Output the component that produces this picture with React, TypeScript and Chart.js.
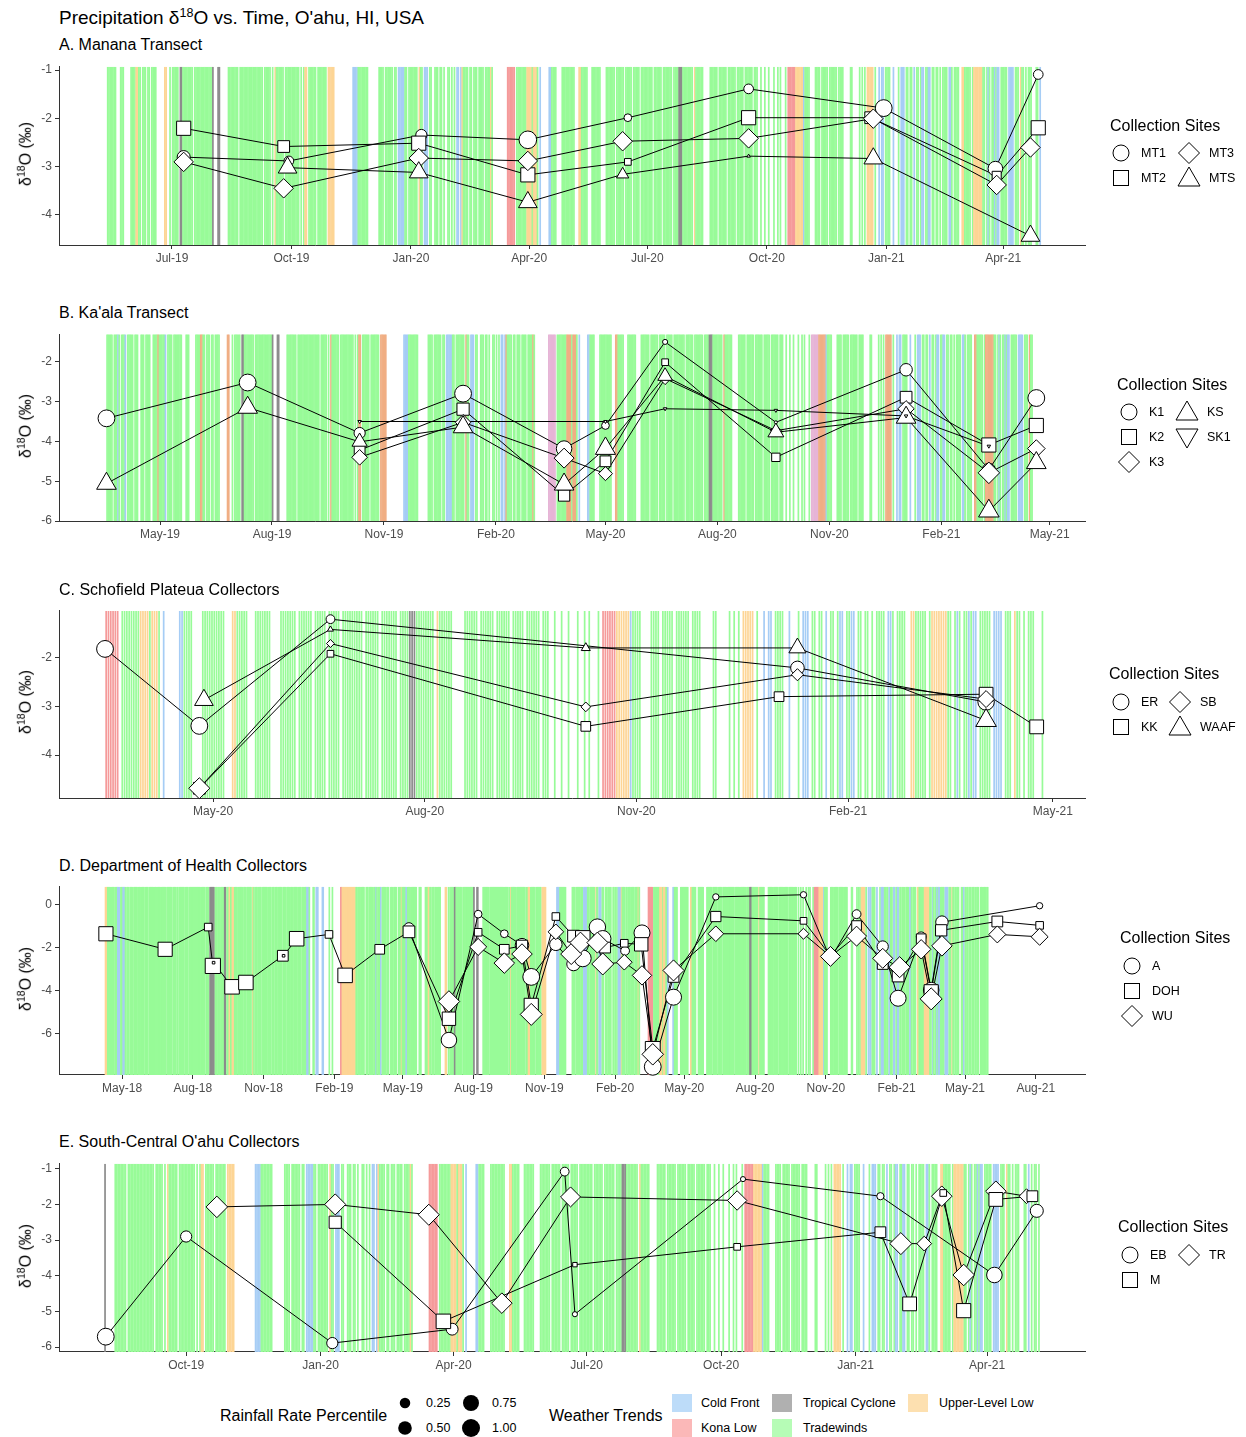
import React, { useEffect, useRef } from 'react';
import { Chart, registerables } from 'chart.js';

Chart.register(...registerables);

const FONT = '"Liberation Sans", Arial, Helvetica, sans-serif';

// ---------------- Weather trend per day (one char per day, month strings) ----------------
// g = Tradewinds, c = Cold Front, k = Kona Low, t = Tropical Cyclone, u = Upper-Level Low, . = none
const WEATHER_2018 = [
  '', '', '',
  '........uuugggg.gggg.gggccc.gg.',
  'gcccg.ggg.gggg.ggggg.ggg.gggg.gg',
  'ggg.gggggg.ggg.gggg.gggggg.ggg.',
  'gggg.gggg.gg.ggggggg.gggg.ggggg',
  'gggggggggg.ggggg.gggg.tttttt.ggg',
  'g.gg.gggg.tt.ggguugguu.gggg.gg',
  'gggg.ggg.gggggg.gug.ggg.gggg.gg',
  'ggggg.gggg.ggg.ggg.ggggg.gggg.g',
  'gggg.ggg.ggggg.gggg.gg.gggcccg..',
];
const WEATHER_2019 = [
  '...gg..ccc.....cc.......g...g..',
  '........kkuuuuuuuuuuuuuuuuuugg',
  'gg.ggg.gggg..ggg.ggggg.gggcg.gg',
  'gc.ggggg.ggg..ggg.gggg..ggggug.',
  'ggggc.gggg.ggggggg...ggg.....gg',
  'gguugg.ggg.gg.gggg......uu..g',
  'ggggg.ttgggggggg.gggggggggggggg',
  't...tt......gggggggg.gggggggggg.g',
  'gggggggg.ggggg.g.ugggggg.gggggg',
  'gggggg.g.guu.gggggg.ggggggg.uuu',
  'uu..............ccccgggggggg..',
  '......gggg.gggggg.gg.cccccgg.gg',
];
const WEATHER_2020 = [
  'ggggg.ugg.ccc.gg..ggg.gg.g..gg.',
  'g.g.cc.cugggg.gg.ggg.gggg.ggg.',
  'gug...........kkkkkk.gggggggguu',
  'uuguuug.c......ccgggg....ggggg',
  'ggggg...uuggggg...ggggggg....gg',
  'ggggg.gggggg.ggggg.ggggg.gggggg',
  'gggg.gggggg.ggggggg.ggggtttgggg',
  'gggg.ugggggg.....gggggg.gggggg.g',
  'gggggg.ggggg.gggggg.ggg..g..g..',
  '.g...g..g.g...g.kkkkkkuuuuuucgg',
  'gg....gggg.ggggg.gggggg.gggg....',
  '...gg.....g.g.g.uuuuu.g..c.cc.gg',
];
const WEATHER_2021 = [
  'ggg..c...g.ccc.gg.gg.c.gg.gcc.gg',
  'gcc.gg.gg.g.gggg.ccg.gggg..uuu',
  'uggggg.guuuuuuugg.gcg.ggcgcc.gg',
  'ggg.cccc.ggg.ugg.g.ggg...gg.c..',
  'g.gg.ggg.ggg.g.ggg..ggg.ggg.gg.',
];
const WEATHER_YEARS: [number, string[]][] = [
  [2018, WEATHER_2018], [2019, WEATHER_2019], [2020, WEATHER_2020], [2021, WEATHER_2021],
];

const WEATHER_COLORS: Record<string, string> = {
  g: '#98fb98', c: '#a6cdf5', k: '#f59a9a', t: '#8c8c8c', u: '#fdd595',
};
const WEATHER_COLORS_B: Record<string, string> = {
  g: '#98fb98', c: '#a6cdf5', k: '#e6b4d6', t: '#8c8c8c', u: '#f0ae84',
};
const WEATHER_KEYS = ['Cold Front', 'Tropical Cyclone', 'Upper-Level Low', 'Kona Low', 'Tradewinds'];
const WEATHER_KEY_COLORS = ['#bddcf9', '#b0b0b0', '#fde0b0', '#fbb8b8', '#b6fcb6'];
const SIZE_KEYS = [0.25, 0.5, 0.75, 1.0];

// ---------------- Panel A: Manana Transect ----------------
const A_X_TICKS = ['Jul-19', 'Oct-19', 'Jan-20', 'Apr-20', 'Jul-20', 'Oct-20', 'Jan-21', 'Apr-21'];
const A_Y_TICKS = [-1, -2, -3, -4];
const A_X_RANGE = ['2019-04-05', '2021-06-03'];
const A_Y_RANGE = [-4.64, -0.93];
const A_WEATHER_WINDOW = ['2019-05-12', '2021-04-30'];
const A_MT1_DATES = ['2019-07-10', '2019-09-29', '2020-01-09', '2020-03-31', '2020-06-16', '2020-09-17', '2020-12-30', '2021-03-26', '2021-04-28'];
const A_MT1_D18O = [-2.81, -2.89, -2.35, -2.45, -1.99, -1.39, -1.79, -3.05, -1.09];
const A_MT1_PCT = [0.45, 0.2, 0.3, 0.95, 0.1, 0.2, 0.85, 0.6, 0.2];
const A_MT2_DATES = ['2019-07-10', '2019-09-25', '2020-01-07', '2020-03-31', '2020-06-16', '2020-09-17', '2020-12-20', '2021-03-27', '2021-04-28'];
const A_MT2_D18O = [-2.21, -2.59, -2.52, -3.18, -2.91, -1.99, -1.99, -3.2, -2.2];
const A_MT2_PCT = [0.8, 0.5, 0.8, 0.8, 0.1, 0.8, 0.5, 0.25, 0.8];
const A_MT3_DATES = ['2019-07-10', '2019-09-25', '2020-01-07', '2020-03-31', '2020-06-12', '2020-09-17', '2020-12-22', '2021-03-27', '2021-04-22'];
const A_MT3_D18O = [-2.91, -3.46, -2.83, -2.89, -2.48, -2.42, -2.01, -3.39, -2.61];
const A_MT3_PCT = [0.7, 0.7, 0.7, 0.7, 0.7, 0.7, 0.7, 0.7, 0.7];
const A_MTS_DATES = ['2019-09-28', '2020-01-07', '2020-03-31', '2020-06-12', '2020-09-17', '2020-12-22', '2021-04-22'];
const A_MTS_D18O = [-3.03, -3.13, -3.75, -3.17, -2.79, -2.84, -4.45];
const A_MTS_PCT = [0.75, 0.75, 0.75, 0.25, 0.0, 0.75, 0.75];

// ---------------- Panel B: Ka'ala Transect ----------------
const B_X_TICKS = ['May-19', 'Aug-19', 'Nov-19', 'Feb-20', 'May-20', 'Aug-20', 'Nov-20', 'Feb-21', 'May-21'];
const B_Y_TICKS = [-2, -3, -4, -5, -6];
const B_X_RANGE = ['2019-02-07', '2021-05-30'];
const B_Y_RANGE = [-6.0, -1.31];
const B_WEATHER_WINDOW = ['2019-03-18', '2021-04-16'];
const B_K1_DATES = ['2019-03-18', '2019-07-12', '2019-10-12', '2020-01-05', '2020-03-28', '2020-05-01', '2020-06-19', '2020-09-18', '2021-01-03', '2021-03-12', '2021-04-20'];
const B_K1_D18O = [-3.42, -2.52, -3.79, -2.8, -4.18, -3.6, -1.5, -3.52, -2.2, -4.71, -2.91];
const B_K1_PCT = [0.85, 0.85, 0.3, 0.85, 0.7, 0.1, 0.02, 0.0, 0.4, 0.45, 0.85];
const B_K2_DATES = ['2019-10-12', '2020-01-05', '2020-03-28', '2020-05-01', '2020-06-19', '2020-09-18', '2021-01-03', '2021-03-12', '2021-04-20'];
const B_K2_D18O = [-4.22, -3.19, -5.36, -4.5, -2.01, -4.4, -2.89, -4.09, -3.6];
const B_K2_PCT = [0.4, 0.55, 0.45, 0.4, 0.1, 0.2, 0.5, 0.8, 0.8];
const B_K3_DATES = ['2019-10-12', '2020-01-05', '2020-03-28', '2020-05-01', '2020-06-19', '2020-09-18', '2021-01-03', '2021-03-12', '2021-04-20'];
const B_K3_D18O = [-4.4, -3.52, -4.42, -4.81, -2.42, -3.73, -3.18, -4.79, -4.18];
const B_K3_PCT = [0.4, 0.4, 0.75, 0.3, 0.2, 0.15, 0.45, 0.9, 0.55];
const B_KS_DATES = ['2019-03-18', '2019-07-12', '2019-10-12', '2020-01-05', '2020-03-28', '2020-05-01', '2020-06-19', '2020-09-18', '2021-01-03', '2021-03-12', '2021-04-20'];
const B_KS_D18O = [-5.06, -3.15, -4.01, -3.64, -5.08, -4.18, -2.36, -3.77, -3.4, -5.75, -4.54];
const B_KS_PCT = [0.85, 0.85, 0.45, 0.85, 0.85, 0.9, 0.4, 0.5, 0.85, 0.95, 0.85];
const B_SK1_DATES = ['2019-10-12', '2020-05-01', '2020-06-19', '2020-09-18', '2021-01-03', '2021-03-12'];
const B_SK1_D18O = [-3.5, -3.5, -3.18, -3.22, -3.36, -4.12];
const B_SK1_PCT = [0, 0, 0, 0, 0, 0];

// ---------------- Panel C: Schofield Plateua Collectors ----------------
const C_X_TICKS = ['May-20', 'Aug-20', 'Nov-20', 'Feb-21', 'May-21'];
const C_Y_TICKS = [-2, -3, -4];
const C_X_RANGE = ['2020-02-24', '2021-05-15'];
const C_Y_RANGE = [-4.88, -1.04];
const C_WEATHER_WINDOW = ['2020-03-14', '2021-04-26'];
const C_ER_DATES = ['2020-03-15', '2020-04-25', '2020-06-21', '2021-01-10', '2021-04-02'];
const C_ER_D18O = [-1.82, -3.4, -1.21, -2.21, -2.91];
const C_ER_PCT = [0.85, 0.85, 0.15, 0.5, 0.8];
const C_KK_DATES = ['2020-04-25', '2020-06-21', '2020-10-10', '2021-01-02', '2021-04-02', '2021-04-24'];
const C_KK_D18O = [-4.68, -1.92, -3.41, -2.8, -2.75, -3.42];
const C_KK_PCT = [0.5, 0.1, 0.3, 0.3, 0.75, 0.75];
const C_SB_DATES = ['2020-04-25', '2020-06-21', '2020-10-10', '2021-01-10', '2021-04-02'];
const C_SB_D18O = [-4.68, -1.71, -3.01, -2.35, -2.85];
const C_SB_PCT = [0.85, 0.05, 0.1, 0.2, 0.5];
const C_WAAF_DATES = ['2020-04-27', '2020-06-21', '2020-10-10', '2021-01-10', '2021-04-02'];
const C_WAAF_D18O = [-2.87, -1.42, -1.8, -1.8, -3.29];
const C_WAAF_PCT = [0.75, 0.02, 0.1, 0.6, 0.95];

// ---------------- Panel D: Department of Health Collectors ----------------
const D_X_TICKS = ['May-18', 'Aug-18', 'Nov-18', 'Feb-19', 'May-19', 'Aug-19', 'Nov-19', 'Feb-20', 'May-20', 'Aug-20', 'Nov-20', 'Feb-21', 'May-21', 'Aug-21'];
const D_Y_TICKS = [0, -2, -4, -6];
const D_X_RANGE = ['2018-02-08', '2021-10-04'];
const D_Y_RANGE = [-7.91, 0.82];
const D_WEATHER_WINDOW = ['2018-04-05', '2021-05-31'];
const D_A_DATES = ['2019-05-09', '2019-06-30', '2019-08-07', '2019-09-10', '2019-10-03', '2019-10-15', '2019-11-16', '2019-12-09', '2019-12-21', '2020-01-09', '2020-01-16', '2020-02-14', '2020-03-07', '2020-03-21', '2020-04-17', '2020-06-11', '2020-10-03', '2020-11-07', '2020-12-11', '2021-01-14', '2021-02-03', '2021-03-05', '2021-03-18', '2021-04-01', '2021-08-06'];
const D_A_D18O = [-1.09, -6.29, -0.45, -1.36, -1.89, -3.36, -1.85, -2.76, -2.5, -1.05, -1.59, -2.15, -1.32, -7.53, -4.3, 0.35, 0.45, -2.53, -0.45, -1.95, -4.35, -1.5, -3.97, -0.82, -0.06];
const D_A_PCT = [0.25, 0.7, 0.1, 0.1, 0.5, 0.85, 0.4, 0.5, 0.85, 0.8, 0.8, 0.15, 0.75, 0.85, 0.75, 0.05, 0.05, 0.15, 0.15, 0.3, 0.75, 0.2, 0.7, 0.4, 0.05];
const D_DOH_DATES = ['2018-04-10', '2018-06-26', '2018-08-21', '2018-08-27', '2018-08-28', '2018-09-21', '2018-10-09', '2018-11-26', '2018-11-27', '2018-12-14', '2019-01-25', '2019-02-15', '2019-04-01', '2019-05-09', '2019-06-30', '2019-08-07', '2019-09-10', '2019-10-03', '2019-10-15', '2019-11-16', '2019-12-09', '2019-12-21', '2020-01-19', '2020-02-13', '2020-03-06', '2020-03-21', '2020-04-17', '2020-06-11', '2020-10-03', '2020-11-07', '2020-12-11', '2021-01-14', '2021-02-03', '2021-03-05', '2021-03-18', '2021-03-31', '2021-06-12', '2021-08-06'];
const D_DOH_D18O = [-1.36, -2.08, -1.05, -2.85, -2.7, -3.82, -3.62, -2.38, -2.38, -1.59, -1.39, -3.29, -2.08, -1.27, -5.3, -1.29, -2.08, -1.92, -4.68, -0.56, -1.47, -1.55, -2.0, -1.8, -1.85, -6.7, -3.36, -0.56, -0.76, -2.38, -0.98, -2.76, -3.32, -1.59, -4.05, -1.2, -0.79, -0.97];
const D_DOH_PCT = [0.8, 0.8, 0.15, 0.95, 0.0, 0.85, 0.85, 0.4, 0.0, 0.85, 0.15, 0.85, 0.3, 0.5, 0.7, 0.15, 0.3, 0.45, 0.8, 0.15, 0.5, 0.85, 0.4, 0.15, 0.7, 0.9, 0.4, 0.35, 0.1, 0.15, 0.3, 0.4, 0.5, 0.3, 0.8, 0.45, 0.4, 0.15];
const D_WU_DATES = ['2019-06-30', '2019-08-07', '2019-09-10', '2019-10-03', '2019-10-15', '2019-11-16', '2019-12-06', '2019-12-18', '2020-01-09', '2020-01-16', '2020-02-13', '2020-03-07', '2020-03-21', '2020-04-17', '2020-06-11', '2020-10-03', '2020-11-07', '2020-12-11', '2021-01-14', '2021-02-05', '2021-03-05', '2021-03-18', '2021-04-01', '2021-06-12', '2021-08-06'];
const D_WU_D18O = [-4.5, -1.97, -2.72, -2.3, -5.1, -1.27, -2.3, -1.77, -1.77, -2.76, -2.68, -3.29, -6.95, -3.06, -1.36, -1.36, -2.41, -1.47, -2.5, -2.91, -2.08, -4.38, -1.92, -1.39, -1.5];
const D_WU_PCT = [0.9, 0.5, 0.8, 0.8, 0.95, 0.4, 0.85, 0.85, 0.85, 0.95, 0.4, 0.7, 0.9, 0.85, 0.4, 0.15, 0.75, 0.75, 0.75, 0.85, 0.7, 0.95, 0.8, 0.5, 0.5];

// ---------------- Panel E: South-Central O'ahu Collectors ----------------
const E_X_TICKS = ['Oct-19', 'Jan-20', 'Apr-20', 'Jul-20', 'Oct-20', 'Jan-21', 'Apr-21'];
const E_Y_TICKS = [-1, -2, -3, -4, -5, -6];
const E_X_RANGE = ['2019-07-06', '2021-06-07'];
const E_Y_RANGE = [-6.14, -0.86];
const E_WEATHER_WINDOW = ['2019-08-06', '2021-05-06'];
const E_EB_DATES = ['2019-08-07', '2019-10-01', '2020-01-09', '2020-03-31', '2020-06-16', '2020-06-23', '2020-10-16', '2021-01-18', '2021-04-06', '2021-05-05'];
const E_EB_D18O = [-5.71, -2.9, -5.89, -5.5, -1.08, -5.08, -1.29, -1.77, -3.98, -2.18];
const E_EB_PCT = [0.85, 0.3, 0.3, 0.35, 0.15, 0.02, 0.02, 0.08, 0.7, 0.45];
const E_TR_DATES = ['2019-10-22', '2020-01-11', '2020-03-15', '2020-05-04', '2020-06-20', '2020-10-12', '2021-02-01', '2021-02-17', '2021-03-01', '2021-03-16', '2021-04-07', '2021-04-28'];
const E_TR_D18O = [-2.07, -2.0, -2.29, -4.77, -1.79, -1.89, -3.1, -3.1, -1.77, -3.98, -1.63, -1.77];
const E_TR_PCT = [0.9, 0.85, 0.85, 0.8, 0.75, 0.7, 0.95, 0.35, 0.8, 0.9, 0.8, 0.35];
const E_M_DATES = ['2020-01-11', '2020-03-25', '2020-06-23', '2020-10-12', '2021-01-18', '2021-02-07', '2021-03-02', '2021-03-16', '2021-04-07', '2021-05-02'];
const E_M_D18O = [-2.5, -5.28, -3.69, -3.19, -2.78, -4.79, -1.68, -4.98, -1.86, -1.77];
const E_M_PCT = [0.55, 0.85, 0.02, 0.1, 0.4, 0.75, 0.1, 0.8, 0.75, 0.4];

// ---------------- helpers ----------------
const DAY_MS = 86400000;
const MONTH_ABBR = ['Jan', 'Feb', 'Mar', 'Apr', 'May', 'Jun', 'Jul', 'Aug', 'Sep', 'Oct', 'Nov', 'Dec'];
const toDay = (iso: string) => Date.UTC(+iso.slice(0, 4), +iso.slice(5, 7) - 1, +iso.slice(8, 10)) / DAY_MS;
const labelToDay = (lbl: string) => {
  const [m, y] = lbl.split('-');
  return Date.UTC(2000 + Number(y), MONTH_ABBR.indexOf(m), 1) / DAY_MS;
};
const pctToRadius = (p: number) => 1.5 * (1 + 5 * Math.sqrt(p));

const WEATHER_BY_DAY = new Map<number, string>();
for (const [year, months] of WEATHER_YEARS) {
  months.forEach((s, m) => {
    const n = new Date(Date.UTC(year, m + 1, 0)).getUTCDate();
    for (let i = 0; i < Math.min(n, s.length); i++) {
      WEATHER_BY_DAY.set(Date.UTC(year, m, i + 1) / DAY_MS, s[i]);
    }
  });
}

type Shape = 'circle' | 'square' | 'diamond' | 'triangle' | 'down';
const SHAPE_STYLE: Record<Shape, string> = {
  circle: 'circle', square: 'rect', diamond: 'rectRot', triangle: 'triangle', down: 'triangle',
};
const SHAPE_SCALE: Record<Shape, number> = {
  circle: 1, square: 1.22, diamond: 1.25, triangle: 1.35, down: 1.35,
};

interface Series { label: string; shape: Shape; dates: string[]; values: number[]; pct: number[] }
interface LegendItem { label: string; shape: Shape; cx: number; cy: number }
interface PanelCfg {
  title: string; titleCy: number; canvasTop: number; plotTop: number; plotBottom: number;
  xRange: string[]; yRange: number[]; xTicks: string[]; yTicks: number[];
  window: string[]; colors: Record<string, string>; series: Series[];
  legendX: number; legendCy: number; legend: LegendItem[];
}

const PANELS: PanelCfg[] = [
  {
    title: 'A. Manana Transect', titleCy: 45, canvasTop: 55, plotTop: 62, plotBottom: 245,
    xRange: A_X_RANGE, yRange: A_Y_RANGE, xTicks: A_X_TICKS, yTicks: A_Y_TICKS,
    window: A_WEATHER_WINDOW, colors: WEATHER_COLORS,
    series: [
      { label: 'MT1', shape: 'circle', dates: A_MT1_DATES, values: A_MT1_D18O, pct: A_MT1_PCT },
      { label: 'MT2', shape: 'square', dates: A_MT2_DATES, values: A_MT2_D18O, pct: A_MT2_PCT },
      { label: 'MT3', shape: 'diamond', dates: A_MT3_DATES, values: A_MT3_D18O, pct: A_MT3_PCT },
      { label: 'MTS', shape: 'triangle', dates: A_MTS_DATES, values: A_MTS_D18O, pct: A_MTS_PCT },
    ],
    legendX: 1110, legendCy: 126,
    legend: [
      { label: 'MT1', shape: 'circle', cx: 1121, cy: 153 },
      { label: 'MT3', shape: 'diamond', cx: 1189, cy: 153 },
      { label: 'MT2', shape: 'square', cx: 1121, cy: 178 },
      { label: 'MTS', shape: 'triangle', cx: 1189, cy: 178 },
    ],
  },
  {
    title: "B. Ka'ala Transect", titleCy: 313, canvasTop: 322, plotTop: 330, plotBottom: 521,
    xRange: B_X_RANGE, yRange: B_Y_RANGE, xTicks: B_X_TICKS, yTicks: B_Y_TICKS,
    window: B_WEATHER_WINDOW, colors: WEATHER_COLORS_B,
    series: [
      { label: 'K1', shape: 'circle', dates: B_K1_DATES, values: B_K1_D18O, pct: B_K1_PCT },
      { label: 'K2', shape: 'square', dates: B_K2_DATES, values: B_K2_D18O, pct: B_K2_PCT },
      { label: 'K3', shape: 'diamond', dates: B_K3_DATES, values: B_K3_D18O, pct: B_K3_PCT },
      { label: 'KS', shape: 'triangle', dates: B_KS_DATES, values: B_KS_D18O, pct: B_KS_PCT },
      { label: 'SK1', shape: 'down', dates: B_SK1_DATES, values: B_SK1_D18O, pct: B_SK1_PCT },
    ],
    legendX: 1117, legendCy: 385,
    legend: [
      { label: 'K1', shape: 'circle', cx: 1129, cy: 412 },
      { label: 'KS', shape: 'triangle', cx: 1187, cy: 412 },
      { label: 'K2', shape: 'square', cx: 1129, cy: 437 },
      { label: 'SK1', shape: 'down', cx: 1187, cy: 437 },
      { label: 'K3', shape: 'diamond', cx: 1129, cy: 462 },
    ],
  },
  {
    title: 'C. Schofield Plateua Collectors', titleCy: 590, canvasTop: 598, plotTop: 606, plotBottom: 798,
    xRange: C_X_RANGE, yRange: C_Y_RANGE, xTicks: C_X_TICKS, yTicks: C_Y_TICKS,
    window: C_WEATHER_WINDOW, colors: WEATHER_COLORS,
    series: [
      { label: 'ER', shape: 'circle', dates: C_ER_DATES, values: C_ER_D18O, pct: C_ER_PCT },
      { label: 'KK', shape: 'square', dates: C_KK_DATES, values: C_KK_D18O, pct: C_KK_PCT },
      { label: 'SB', shape: 'diamond', dates: C_SB_DATES, values: C_SB_D18O, pct: C_SB_PCT },
      { label: 'WAAF', shape: 'triangle', dates: C_WAAF_DATES, values: C_WAAF_D18O, pct: C_WAAF_PCT },
    ],
    legendX: 1109, legendCy: 674,
    legend: [
      { label: 'ER', shape: 'circle', cx: 1121, cy: 702 },
      { label: 'SB', shape: 'diamond', cx: 1180, cy: 702 },
      { label: 'KK', shape: 'square', cx: 1121, cy: 727 },
      { label: 'WAAF', shape: 'triangle', cx: 1180, cy: 727 },
    ],
  },
  {
    title: 'D. Department of Health Collectors', titleCy: 866, canvasTop: 875, plotTop: 883, plotBottom: 1075,
    xRange: D_X_RANGE, yRange: D_Y_RANGE, xTicks: D_X_TICKS, yTicks: D_Y_TICKS,
    window: D_WEATHER_WINDOW, colors: WEATHER_COLORS,
    series: [
      { label: 'A', shape: 'circle', dates: D_A_DATES, values: D_A_D18O, pct: D_A_PCT },
      { label: 'DOH', shape: 'square', dates: D_DOH_DATES, values: D_DOH_D18O, pct: D_DOH_PCT },
      { label: 'WU', shape: 'diamond', dates: D_WU_DATES, values: D_WU_D18O, pct: D_WU_PCT },
    ],
    legendX: 1120, legendCy: 938,
    legend: [
      { label: 'A', shape: 'circle', cx: 1132, cy: 966 },
      { label: 'DOH', shape: 'square', cx: 1132, cy: 991 },
      { label: 'WU', shape: 'diamond', cx: 1132, cy: 1016 },
    ],
  },
  {
    title: "E. South-Central O'ahu Collectors", titleCy: 1142, canvasTop: 1152, plotTop: 1160, plotBottom: 1352,
    xRange: E_X_RANGE, yRange: E_Y_RANGE, xTicks: E_X_TICKS, yTicks: E_Y_TICKS,
    window: E_WEATHER_WINDOW, colors: WEATHER_COLORS,
    series: [
      { label: 'EB', shape: 'circle', dates: E_EB_DATES, values: E_EB_D18O, pct: E_EB_PCT },
      { label: 'TR', shape: 'diamond', dates: E_TR_DATES, values: E_TR_D18O, pct: E_TR_PCT },
      { label: 'M', shape: 'square', dates: E_M_DATES, values: E_M_D18O, pct: E_M_PCT },
    ],
    legendX: 1118, legendCy: 1227,
    legend: [
      { label: 'EB', shape: 'circle', cx: 1130, cy: 1255 },
      { label: 'TR', shape: 'diamond', cx: 1189, cy: 1255 },
      { label: 'M', shape: 'square', cx: 1130, cy: 1280 },
    ],
  },
];

const X_AXIS_H = 25;
const Y_AXIS_W = 59;
const PLOT_RIGHT = 1085;
const PAGE_W = 1246;

const stripePlugin = {
  id: 'stripes',
  beforeDatasetsDraw(chart: any, _args: any, opts: any) {
    const { ctx, chartArea } = chart;
    const x = chart.scales.x;
    const start = toDay(opts.window[0]);
    const end = toDay(opts.window[1]);
    ctx.save();
    ctx.beginPath();
    ctx.rect(chartArea.left, chartArea.top, chartArea.right - chartArea.left, chartArea.bottom - chartArea.top);
    ctx.clip();
    for (let d = start; d <= end; d++) {
      const code = WEATHER_BY_DAY.get(d);
      if (!code || code === '.') continue;
      const px = x.getPixelForValue(d + 0.5);
      ctx.fillStyle = opts.colors[code];
      ctx.fillRect(px - 0.85, chartArea.top, 1.7, chartArea.bottom - chartArea.top);
    }
    ctx.restore();
  },
};

function PanelChart({ cfg }: { cfg: PanelCfg }) {
  const ref = useRef<HTMLCanvasElement>(null);
  const canvasH = cfg.plotBottom + X_AXIS_H - cfg.canvasTop;
  useEffect(() => {
    const canvas = ref.current;
    if (!canvas) return;
    const lineSets: any[] = [];
    const pointSets: any[] = [];
    cfg.series.forEach((s, i) => {
      const pts = s.dates.map((d, j) => ({ x: toDay(d), y: s.values[j] }));
      lineSets.push({
        label: s.label + ' line', data: pts, borderColor: '#000', borderWidth: 1,
        pointRadius: 0, pointHoverRadius: 0, fill: false, tension: 0, order: 100, clip: false,
      });
      pointSets.push({
        label: s.label, data: pts, showLine: false,
        pointStyle: SHAPE_STYLE[s.shape],
        pointRotation: s.shape === 'down' ? 180 : 0,
        pointRadius: s.pct.map((p) => pctToRadius(p) * SHAPE_SCALE[s.shape]),
        pointHoverRadius: s.pct.map((p) => pctToRadius(p) * SHAPE_SCALE[s.shape]),
        pointBackgroundColor: '#ffffff', pointBorderColor: '#000000', pointBorderWidth: 1,
        order: 50 - i, clip: false,
      });
    });
    const tickFont = { family: FONT, size: 12 };
    const chart = new Chart(canvas, {
      type: 'line',
      data: { datasets: [...lineSets, ...pointSets] },
      plugins: [stripePlugin as any],
      options: {
        responsive: false,
        animation: false,
        devicePixelRatio: 1,
        events: [],
        layout: { padding: { top: cfg.plotTop - cfg.canvasTop, right: PAGE_W - PLOT_RIGHT, left: 0, bottom: 0 } },
        plugins: {
          legend: { display: false },
          tooltip: { enabled: false },
          stripes: { window: cfg.window, colors: cfg.colors },
        } as any,
        scales: {
          x: {
            type: 'linear',
            min: toDay(cfg.xRange[0]),
            max: toDay(cfg.xRange[1]),
            afterBuildTicks: (axis: any) => { axis.ticks = cfg.xTicks.map((l) => ({ value: labelToDay(l) })); },
            afterFit: (axis: any) => { axis.height = X_AXIS_H; },
            ticks: {
              autoSkip: false, maxRotation: 0, minRotation: 0, padding: 2,
              color: '#4d4d4d', font: tickFont,
              callback: (_v: any, i: number) => cfg.xTicks[i],
            },
            grid: { display: true, drawOnChartArea: false, drawTicks: true, tickLength: 4, color: '#333333', lineWidth: 1 },
            border: { display: true, color: '#333333', width: 1 },
          },
          y: {
            type: 'linear',
            min: cfg.yRange[0],
            max: cfg.yRange[1],
            afterBuildTicks: (axis: any) => { axis.ticks = cfg.yTicks.map((v) => ({ value: v })); },
            afterFit: (axis: any) => { axis.width = Y_AXIS_W; },
            ticks: { color: '#4d4d4d', font: tickFont, padding: 3, callback: (v: any) => String(v) },
            grid: { display: true, drawOnChartArea: false, drawTicks: true, tickLength: 4, color: '#333333', lineWidth: 1 },
            border: { display: true, color: '#333333', width: 1 },
          },
        },
      } as any,
    });
    return () => chart.destroy();
  }, [cfg]);
  return (
    <canvas
      ref={ref}
      width={PAGE_W}
      height={canvasH}
      style={{ position: 'absolute', left: 0, top: cfg.canvasTop, width: PAGE_W, height: canvasH }}
    />
  );
}

const Sup = ({ children }: { children: React.ReactNode }) => (
  <span style={{ fontSize: '0.66em', position: 'relative', top: '-0.55em', lineHeight: 0 }}>{children}</span>
);

const Txt = ({ x, cy, size, children, color = '#000' }: { x: number; cy: number; size: number; children: React.ReactNode; color?: string }) => (
  <div style={{ position: 'absolute', left: x, top: cy - size * 0.56, fontSize: size, lineHeight: 1.15, whiteSpace: 'nowrap', color }}>
    {children}
  </div>
);

function ShapeIcon({ shape, cx, cy }: { shape: Shape; cx: number; cy: number }) {
  const s = 28;
  const c = s / 2;
  let el: React.ReactNode = null;
  if (shape === 'circle') el = <circle cx={c} cy={c} r={8} />;
  if (shape === 'square') el = <rect x={c - 7.5} y={c - 7.5} width={15} height={15} />;
  if (shape === 'diamond') el = <polygon points={`${c},${c - 10.5} ${c + 10.5},${c} ${c},${c + 10.5} ${c - 10.5},${c}`} />;
  if (shape === 'triangle') el = <polygon points={`${c},${c - 11} ${c + 11},${c + 8} ${c - 11},${c + 8}`} />;
  if (shape === 'down') el = <polygon points={`${c},${c + 11} ${c + 11},${c - 8} ${c - 11},${c - 8}`} />;
  return (
    <svg width={s} height={s} style={{ position: 'absolute', left: cx - c, top: cy - c }}>
      <g fill="#fff" stroke="#000" strokeWidth={1}>{el}</g>
    </svg>
  );
}

function YTitle({ cy }: { cy: number }) {
  return (
    <div style={{
      position: 'absolute', left: 26, top: cy, fontSize: 16, lineHeight: 1.15, whiteSpace: 'nowrap',
      transform: 'translate(-50%, -50%) rotate(-90deg)',
    }}>
      δ<Sup>18</Sup>O (‰)
    </div>
  );
}

export default function App() {
  return (
    <div style={{ position: 'absolute', left: 0, top: 0, width: PAGE_W, height: 1437, background: '#fff', fontFamily: FONT, color: '#000', overflow: 'hidden' }}>
      <Txt x={59} cy={18} size={19}>
        Precipitation δ<Sup>18</Sup>O vs. Time, O'ahu, HI, USA
      </Txt>
      {PANELS.map((p, i) => (
        <React.Fragment key={i}>
          <PanelChart cfg={p} />
          <Txt x={59} cy={p.titleCy} size={16}>{p.title}</Txt>
          <YTitle cy={(p.plotTop + p.plotBottom) / 2} />
          <Txt x={p.legendX} cy={p.legendCy} size={16}>Collection Sites</Txt>
          {p.legend.map((it, j) => (
            <React.Fragment key={j}>
              <ShapeIcon shape={it.shape} cx={it.cx} cy={it.cy} />
              <Txt x={it.cx + 20} cy={it.cy} size={12.5}>{it.label}</Txt>
            </React.Fragment>
          ))}
        </React.Fragment>
      ))}
      {/* Bottom legends */}
      <Txt x={220} cy={1416} size={16}>Rainfall Rate Percentile</Txt>
      {SIZE_KEYS.map((p, i) => {
        const cx = i < 2 ? 405 : 471;
        const cy = i % 2 === 0 ? 1403 : 1428;
        const r = pctToRadius(p);
        return (
          <React.Fragment key={i}>
            <svg width={24} height={24} style={{ position: 'absolute', left: cx - 12, top: cy - 12 }}>
              <circle cx={12} cy={12} r={r} fill="#000" />
            </svg>
            <Txt x={cx + 21} cy={cy} size={12.5}>{p.toFixed(2)}</Txt>
          </React.Fragment>
        );
      })}
      <Txt x={549} cy={1416} size={16}>Weather Trends</Txt>
      {WEATHER_KEYS.map((k, i) => {
        const col = i < 3 ? i : i - 3;
        const row = i < 3 ? 0 : 1;
        const kx = [672, 772, 908][col];
        const lx = [701, 803, 939][col];
        const cy = row === 0 ? 1403 : 1428;
        return (
          <React.Fragment key={k}>
            <div style={{ position: 'absolute', left: kx, top: cy - 9, width: 20, height: 18, background: WEATHER_KEY_COLORS[i] }} />
            <Txt x={lx} cy={cy} size={12.5}>{k}</Txt>
          </React.Fragment>
        );
      })}
    </div>
  );
}
